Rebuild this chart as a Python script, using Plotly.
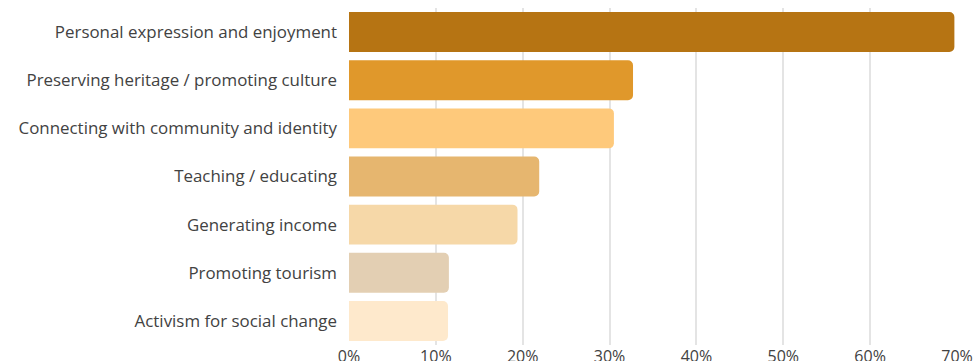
import plotly.graph_objects as go

# Survey: main motivations (share of respondents, %)
categories = [
    "Personal expression and enjoyment",
    "Preserving heritage / promoting culture",
    "Connecting with community and identity",
    "Teaching / educating",
    "Generating income",
    "Promoting tourism",
    "Activism for social change",
]
shares = [69.7, 32.7, 30.5, 21.9, 19.4, 11.5, 11.4]
bar_colors = ["#B67413", "#E0982B", "#FEC97B", "#E6B66F", "#F6D8A8", "#E3CFB3", "#FEE9CC"]
x_ticks = [0, 10, 20, 30, 40, 50, 60, 70]
x_tick_labels = [f"{t}%" for t in x_ticks]

fig = go.Figure(
    go.Bar(
        x=shares,
        y=categories,
        orientation="h",
        marker=dict(color=bar_colors, line=dict(width=0), cornerradius=5),
        hoverinfo="x+y",
    )
)

fig.update_layout(
    width=973,
    height=361,
    margin=dict(l=349, r=16, t=8, b=16),
    paper_bgcolor="white",
    plot_bgcolor="white",
    bargap=0.17,
    showlegend=False,
    font=dict(family="Open Sans", color="#424242", size=16),
)

fig.update_xaxes(
    range=[0, 70],
    tickvals=x_ticks,
    ticktext=x_tick_labels,
    showgrid=True,
    gridcolor="#E4E4E4",
    gridwidth=1.5,
    zeroline=False,
    showline=False,
    ticks="",
    tickfont=dict(size=16, color="#424242"),
    automargin=False,
    ticklabelstandoff=0,
)

fig.update_yaxes(
    categoryorder="array",
    categoryarray=categories,
    autorange="reversed",
    showgrid=False,
    zeroline=False,
    showline=False,
    ticks="",
    tickfont=dict(size=16.9, color="#424242"),
    automargin=False,
    ticklabelstandoff=11,
)

fig.write_html("out.html")
